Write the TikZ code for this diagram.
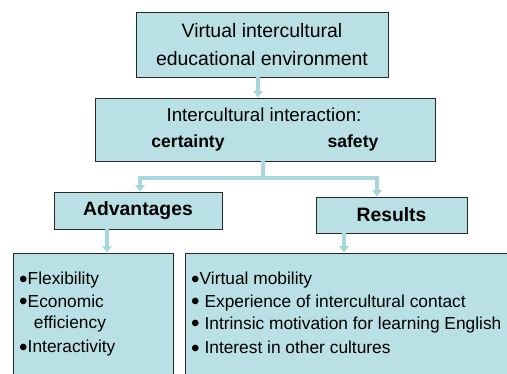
\documentclass[tikz,border=0pt]{standalone}
\usepackage{fontspec}
\setmainfont{Liberation Sans}
\usetikzlibrary{arrows.meta}
\definecolor{boxfill}{RGB}{185,224,228}
\definecolor{flowblue}{RGB}{168,214,222}
\definecolor{boxline}{RGB}{40,40,40}
\newcommand{\listdot}{\smash{\raisebox{-0.14em}{\scalebox{1.4}{•}}}}
\tikzset{
  box/.style={draw=boxline, line width=0.8pt, fill=boxfill, inner sep=0pt},
  flowline/.style={draw=flowblue, line width=2.6pt},
  flow/.style={flowline, -{Triangle[width=8pt,length=5.5pt]}},
  titletext/.style={font=\fontsize{16.6}{24}\selectfont, align=center},
  headtext/.style={font=\fontsize{16.5}{20}\selectfont\bfseries},
  listtext/.style={font=\fontsize{14.8}{18}\selectfont, align=left, inner sep=0pt, anchor=north west}
}
\begin{document}
\begin{tikzpicture}[x=0.03cm, y=-0.03cm]
		%%%%% FRAME %%%%%
		\useasboundingbox (0,0) rectangle (507,374);
		\clip (0,0) rectangle (507,374);
		
		%%%%% BOXES %%%%%
		\node[box, titletext, minimum width=7.56cm, minimum height=1.95cm] (env) at (262,44.5)
			{Virtual intercultural\\educational environment};
		\node[box, minimum width=10.2cm, minimum height=1.89cm] (inter) at (265,129.5) {};
		\node[font=\fontsize{16}{20}\selectfont] (intertitle) at (264,115) {Intercultural interaction:};
		\node[font=\fontsize{15}{18}\selectfont\bfseries] (certainty) at (188,143) {certainty};
		\node[font=\fontsize{15}{18}\selectfont\bfseries] (safety) at (353,143) {safety};
		
		\node[box, headtext, minimum width=5.04cm, minimum height=1.11cm] (adv) at (138,210.5) {Advantages};
		\node[box, headtext, minimum width=4.53cm, minimum height=1.08cm] (res) at (391.5,215) {Results};
		
		\node[box, minimum width=4.8cm, minimum height=4.11cm] (advbox) at (93,321.5) {};
		\node[box, minimum width=10.05cm, minimum height=4.11cm] (resbox) at (352.5,321.5) {};
		
		\node[listtext] (advlist) at (19,272)
			{\listdot Flexibility\\[1pt] \listdot Economic\\ \hspace*{0.85em}efficiency\\[3pt] \listdot Interactivity};
		\node[listtext] (reslist) at (191,272)
			{\listdot Virtual mobility\\[1pt] \listdot\ Experience of intercultural contact\\[1pt] \listdot\ Intrinsic motivation for learning English\\[3pt] \listdot\ Interest in other cultures};
		
		%%%%% ARROWS %%%%%
		\path ([xshift=-0.12cm]env.south) coordinate (envout);
		\draw[flow] (envout) -- (envout |- inter.north);
		
		\path ([xshift=-0.06cm]inter.south) coordinate (interout);
		\coordinate (fork) at (263,178);
		\path ([xshift=0.06cm]adv.north) coordinate (advin);
		\path ([xshift=-0.435cm]res.north) coordinate (resin);
		\draw[flowline] (interout) -- (fork);
		\draw[flow] (fork) -| (advin);
		\draw[flow] (fork) -| (resin);
		
		\path ([xshift=-0.93cm]adv.south) coordinate (advout);
		\draw[flow] (advout) -- (advout |- advbox.north);
		\path ([xshift=-1.425cm]res.south) coordinate (resout);
		\draw[flow] (resout) -- (resout |- resbox.north);
		
		%%%%% END %%%%%
	\end{tikzpicture}
\end{document}
